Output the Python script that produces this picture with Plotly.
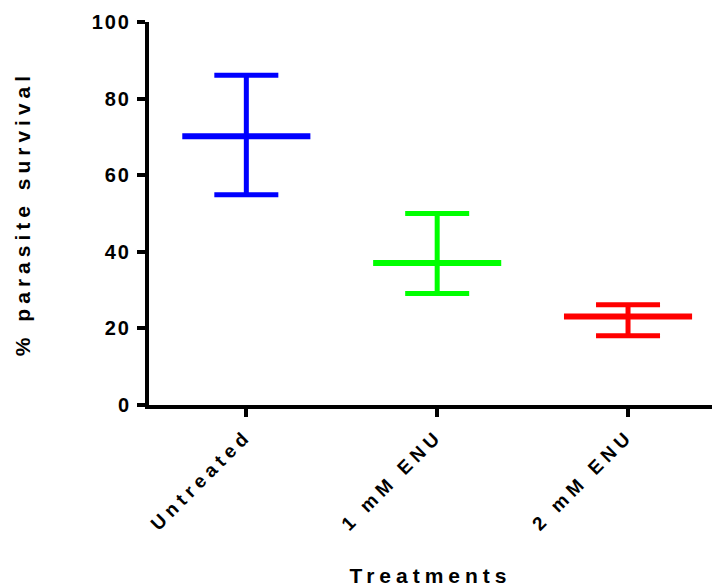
import plotly.graph_objects as go

categories = ["Untreated", "1 mM ENU", "2 mM ENU"]
means = [70.2, 37.1, 23.1]
upper = [86.1, 50.0, 26.2]
lower = [54.9, 29.1, 18.1]
colors = ["#0000FF", "#00FF00", "#FF0000"]
y_ticks = [0, 20, 40, 60, 80, 100]

FONT = "Liberation Sans, Arial, sans-serif"


def spaced(text, px):
    return '<span style="letter-spacing:%dpx">%s</span>' % (px, text)


fig = go.Figure()
for i, (cat, m, u, l, c) in enumerate(zip(categories, means, upper, lower, colors)):
    fig.add_trace(go.Scatter(
        x=[i], y=[m], mode="markers", name=cat, showlegend=False,
        marker=dict(symbol="line-ew", size=91.5, color=c,
                    line=dict(color=c, width=6)),
        error_y=dict(type="data", symmetric=False, array=[u - m],
                     arrayminus=[m - l], width=32, thickness=5, color=c),
        hoverinfo="skip",
    ))

fig.update_layout(
    width=713, height=587,
    margin=dict(l=149, r=1, t=22, b=182),
    paper_bgcolor="white", plot_bgcolor="white",
    font=dict(family=FONT, color="black", size=20),
    xaxis=dict(
        range=[-0.51, 2.44], showgrid=False, zeroline=False,
        showline=True, linecolor="black", linewidth=4,
        ticks="outside", ticklen=8, tickwidth=4, tickcolor="black",
        tickvals=list(range(len(categories))),
        ticktext=[spaced("<b>%s</b>" % c, 5) for c in categories],
        tickangle=-45, tickfont=dict(size=19, family=FONT),
        title=dict(text=spaced("<b>Treatments</b>", 5),
                   font=dict(size=21, family=FONT), standoff=37),
        automargin=False,
    ),
    yaxis=dict(
        range=[0, 100], showgrid=False, zeroline=False,
        showline=True, linecolor="black", linewidth=4,
        ticks="outside", ticklen=8, tickwidth=4, tickcolor="black",
        tickvals=y_ticks,
        ticktext=[spaced("<b>%d</b>" % t, 2) for t in y_ticks],
        tickfont=dict(size=20, family=FONT), ticklabelstandoff=2,
        title=dict(text=spaced("<b>% parasite survival</b>", 5),
                   font=dict(size=21, family=FONT), standoff=56),
        automargin=False,
    ),
)

fig.write_html("out.html", config={"displayModeBar": False},
               post_script="document.body.style.margin='0px';")
